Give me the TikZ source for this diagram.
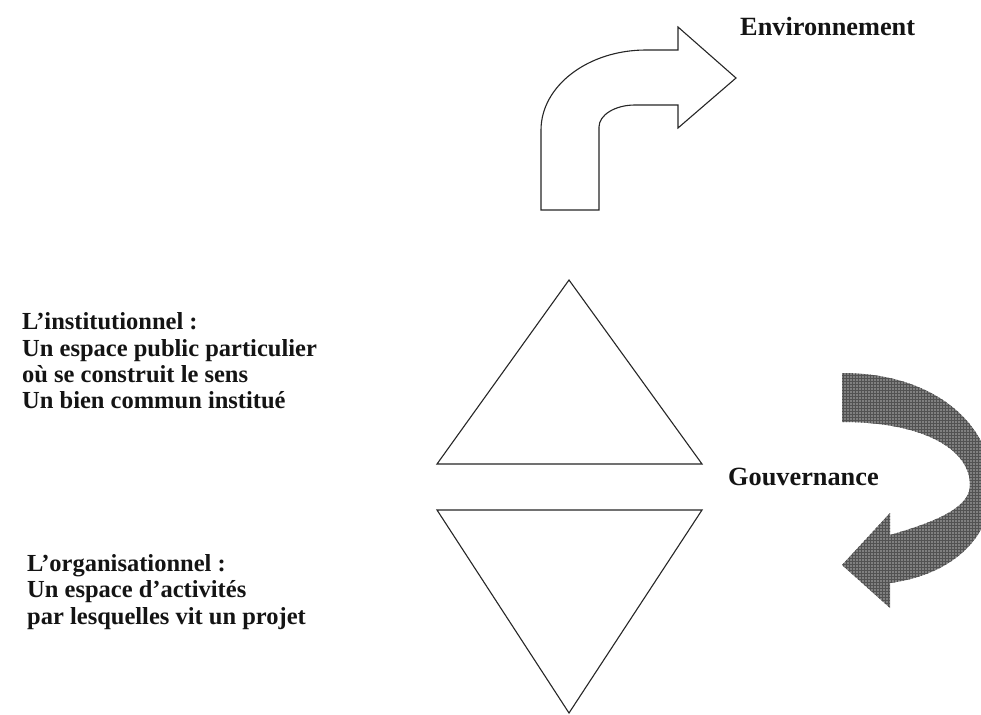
\documentclass[tikz,border=0pt]{standalone}
\usepackage{fontspec}
\setmainfont{Liberation Serif}
\usetikzlibrary{patterns}
\begin{document}
\begin{tikzpicture}[x=1pt,y=-1pt,
  shapeline/.style={draw=black!85,line width=1.1pt,line join=miter},
  whiteshape/.style={shapeline,fill=white},
  grayarrow/.style={fill=black!50,draw=none},
  grayhatch/.style={pattern=grid,pattern color=black!68,draw=none},
  lbl/.style={font=\fontsize{26.3}{27}\selectfont\bfseries,text=black!92,inner sep=0pt},
  leftblock/.style={lbl,font=\fontsize{24.5}{26.3}\selectfont\bfseries,align=left,anchor=west}
]
\useasboundingbox (0,0) rectangle (981,714);

% bent arrow towards the environment
\draw[whiteshape] (541,210) -- (541,130)
  .. controls (541,86) and (588,50) .. (646,50)
  -- (678,50) -- (678,27) -- (736,78) -- (678,128) -- (678,105) -- (635,105)
  .. controls (615,105) and (599,115) .. (599,127)
  -- (599,210) -- cycle;

% triangles
\draw[whiteshape] (569,280) -- (702,464) -- (437,464) -- cycle;
\draw[whiteshape] (437,510) -- (702,510) -- (569,713) -- cycle;

% curved governance arrow
\def\govpath{(842,373)
  .. controls (940,373) and (995,430) .. (992,490)
  .. controls (990,540) and (950,575) .. (890,583)
  -- (890,608) -- (842,565) -- (890,513) -- (890,535)
  .. controls (935,522) and (970,508) .. (970,485)
  .. controls (970,450) and (925,422) .. (842,422) -- cycle}
\fill[grayarrow] \govpath;
\fill[grayhatch] \govpath;

% texts
\node[lbl,anchor=west] (env) at (740,27) {Environnement};
\node[lbl,anchor=west] (gouv) at (728,477) {Gouvernance};
\node[leftblock] (inst) at (22,361) {L’institutionnel :\\Un espace public particulier\\où se construit le sens\\Un bien commun institué};
\node[leftblock] (org) at (27,592) {L’organisationnel :\\Un espace d’activités\\par lesquelles vit un projet};
\end{tikzpicture}
\end{document}
